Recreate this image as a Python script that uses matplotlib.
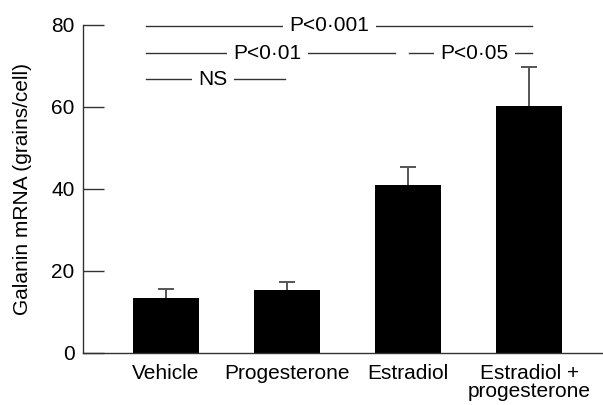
import matplotlib
matplotlib.use("Agg")
import matplotlib.pyplot as plt

# ── Data ──────────────────────────────────────────────────────────────────────
groups = ["Vehicle", "Progesterone", "Estradiol", "Estradiol +\nprogesterone"]
means = [13.3, 15.3, 41.0, 60.3]
upper_err = [2.3, 2.0, 4.4, 9.5]

# significance brackets
sig_labels = ["P<0·001", "P<0·01", "P<0·05", "NS"]
sig_x0 = [-0.165, -0.165, 2.01, -0.165]
sig_x1 = [3.02, 1.89, 3.02, 0.98]
sig_y = [79.8, 73.1, 73.1, 66.8]
sig_tx = [1.35, 0.84, 2.55, 0.39]

plt.rcParams["font.family"] = ["Liberation Sans", "DejaVu Sans"]
FS = 15

fig = plt.figure(figsize=(6.03, 4.05), dpi=100)
ax = fig.add_axes([0.1376, 0.1284, 0.8624, 0.81])

x = list(range(len(groups)))
tops = [m + e for m, e in zip(means, upper_err)]
ax.bar(x, means, width=0.545, color="black", zorder=2)
# upper-only error bars, no cap at the bar top
ax.vlines(x, means, tops, color="#555555", lw=1.4, zorder=1)
ax.plot(x, tops, ls="none", marker="_", ms=11, mew=1.4, color="#555555", zorder=1)

for lab, x0, x1, y, tx in zip(sig_labels, sig_x0, sig_x1, sig_y, sig_tx):
    ax.plot([x0, x1], [y, y], color="#333333", lw=1.0, clip_on=False)
    ax.text(tx, y, lab, ha="center", va="center", fontsize=FS,
            bbox=dict(facecolor="white", edgecolor="none", pad=4.5), clip_on=False)

ax.set_xlim(-0.686, 3.61)
ax.set_ylim(0, 80)
ax.set_yticks([0, 20, 40, 60, 80])
ax.set_xticks(x)
ax.set_xticklabels(groups, fontsize=FS, linespacing=0.9)
ax.tick_params(axis="x", length=0, pad=8)
ax.tick_params(axis="y", direction="in", length=15, width=1.0, pad=6,
               labelsize=FS, color="#333333")

for s in ["top", "right"]:
    ax.spines[s].set_visible(False)
for s in ["left", "bottom"]:
    ax.spines[s].set_color("#333333")
    ax.spines[s].set_linewidth(1.0)

ax.set_ylabel("Galanin mRNA (grains/cell)", fontsize=FS)
ax.yaxis.set_label_coords(-0.098, 0.5)

fig.savefig("out.png", dpi=100)
